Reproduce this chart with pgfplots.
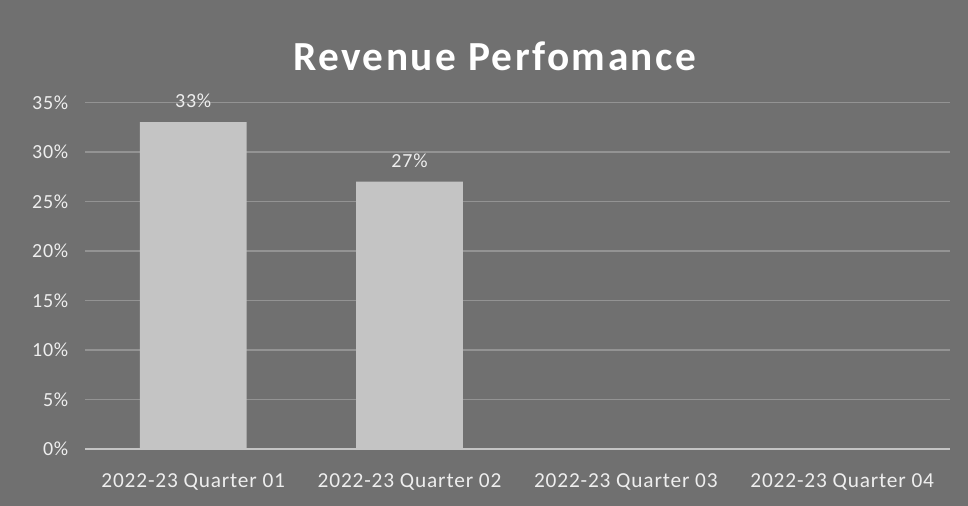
\documentclass[border=0pt]{standalone}
\usepackage{pgfplots}
\pgfplotsset{compat=1.18}
\usepackage{fontspec}
\setmainfont{Carlito}
\definecolor{bg}{HTML}{707070}
\definecolor{barc}{HTML}{C4C4C4}
\definecolor{txt}{HTML}{EEEEEE}
\definecolor{gridc}{HTML}{939393}
\begin{document}
\begin{tikzpicture}
\fill[bg] (0pt,0pt) rectangle (726pt,379.5pt);
\node[font=\fontsize{31}{34}\selectfont\bfseries\addfontfeatures{LetterSpace=6}, text=white] at (371pt,337pt) {Revenue Perfomance};
\begin{axis}[
  at={(63.75pt,42.75pt)}, anchor=south west,
  scale only axis, width=649pt, height=260pt,
  xmin=-0.5, xmax=3.5, ymin=0, ymax=35,
  xtick={0,1,2,3},
  xticklabels={2022-23 Quarter 01,2022-23 Quarter 02,2022-23 Quarter 03,2022-23 Quarter 04},
  ytick={0,5,...,35},
  yticklabel={\pgfmathprintnumber{\tick}\%},
  /pgf/number format/assume math mode=true,
  ymajorgrids, grid style={gridc, line width=1pt},
  axis y line*=left, axis x line*=bottom,
  y axis line style={draw=none},
  x axis line style={draw=barc, line width=1.5pt},
  major tick length=0pt,
  tick label style={text=txt, font=\fontsize{15}{17}\selectfont\addfontfeatures{LetterSpace=4}},
  yticklabel style={xshift=-9pt},
  xticklabel style={yshift=-15pt, font=\fontsize{16}{18}\selectfont\addfontfeatures{LetterSpace=4}},
  nodes near coords={\pgfmathprintnumber{\pgfplotspointmeta}\%},
  nodes near coords style={text=txt, font=\fontsize{15}{17}\selectfont\addfontfeatures{LetterSpace=4}, yshift=7pt},
]
\addplot[ybar, bar width=80pt, fill=barc, draw=none] coordinates {(0,33) (1,27)};
\end{axis}
\end{tikzpicture}
\end{document}
